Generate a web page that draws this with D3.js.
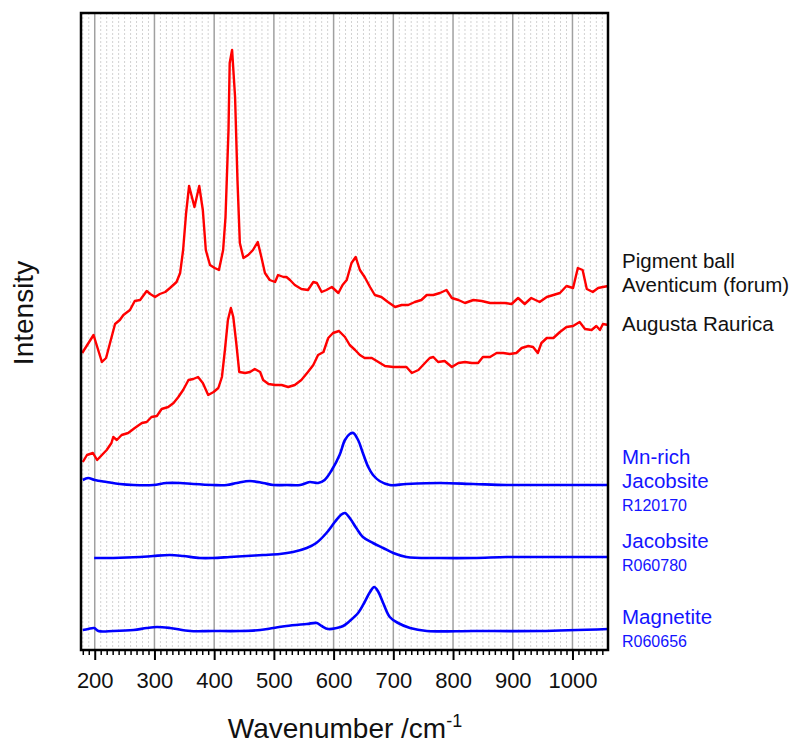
<!DOCTYPE html>
<html>
<head>
<meta charset="utf-8">
<script src="https://cdn.jsdelivr.net/npm/d3@7"></script>
<style>
  body { margin: 0; background: #fff; }
  svg { display: block; font-family: "Liberation Sans", Arial, sans-serif; }
</style>
</head>
<body>
<div id="chart"></div>
<script>
// spectra: [wavenumber, intensity (arbitrary, stacked offset)]
const pigmentBall = [
  [179,297],[198,315],[212,288],[219,292],[234,326],[242,330],[248,335],[259,340],[267,349],[276,350],
  [287,359],[293,356],[301,353],[309,356],[318,358],[326,362],[337,368],[343,377],[348,400],[353,437],
  [358,464],[367,443],[375,464],[381,440],[386,400],[393,385],[401,382],[408,380],[415,400],[419,433],
  [424,520],[426,587],[430,600],[435,553],[439,470],[443,407],[449,392],[457,395],[465,400],[473,408],
  [479,393],[485,377],[493,370],[502,368],[507,375],[516,373],[521,373],[527,370],[535,365],[546,361],
  [557,360],[566,368],[572,367],[580,358],[588,360],[597,363],[608,357],[615,365],[622,370],[630,387],
  [637,393],[644,380],[652,373],[661,363],[669,355],[680,353],[691,348],[703,343],[714,345],[725,345],
  [736,348],[747,350],[756,355],[767,355],[778,357],[789,360],[798,352],[809,350],[820,347],[834,350],
  [848,349],[862,347],[876,347],[887,347],[898,346],[909,352],[920,346],[931,352],[945,348],[957,353],
  [968,355],[979,357],[990,364],[1001,362],[1009,382],[1017,380],[1024,361],[1034,358],[1043,362],
  [1051,363],[1060,364]
];
const augustaRaurica = [
  [180,188],[187,195],[197,197],[204,190],[212,195],[220,200],[228,207],[231,213],[237,210],[245,215],
  [256,217],[267,222],[279,227],[287,228],[295,233],[304,234],[312,241],[323,243],[332,247],[340,253],
  [348,260],[357,270],[365,271],[373,273],[381,267],[390,255],[399,258],[407,262],[413,273],[418,300],
  [423,330],[428,342],[432,333],[437,307],[442,278],[452,277],[460,278],[468,281],[477,278],[482,270],
  [491,266],[502,265],[513,265],[524,263],[535,265],[546,270],[557,278],[566,285],[574,295],[583,298],
  [591,312],[599,317],[609,319],[619,313],[627,305],[636,300],[644,295],[652,292],[664,292],[675,288],
  [686,284],[700,283],[711,283],[722,283],[731,277],[742,280],[753,287],[761,292],[767,293],[775,288],
  [786,289],[798,283],[809,287],[820,288],[831,287],[842,287],[850,293],[862,293],[873,297],[884,297],
  [895,296],[906,297],[915,302],[926,304],[934,303],[942,297],[948,307],[957,312],[968,312],[979,318],
  [990,323],[1001,324],[1012,328],[1021,321],[1032,320],[1040,324],[1046,320],[1051,326],[1060,325]
];
const mnJacobsite = [
  [180,170],[189,172],[200,170],[220,168],[242,166],[265,165],[298,165],[320,167],[343,167],[365,166],
  [398,165],[421,165],[438,167],[460,169],[482,167],[499,165],[521,165],[544,165],[560,168],[574,167],
  [585,170],[597,180],[610,195],[619,210],[627,216],[633,217],[641,210],[649,197],[658,183],[666,175],
  [677,169],[694,165],[722,166],[778,167],[834,166],[890,165],[945,165],[1001,165],[1060,165]
];
const jacobsite = [
  [199,92],[231,92],[276,93],[298,94],[326,95],[348,94],[376,92],[398,92],[426,93],[454,94],
  [482,95],[510,96],[532,98],[555,102],[571,107],[588,117],[602,128],[612,135],[619,137],[627,132],
  [638,122],[649,113],[666,107],[683,102],[700,97],[722,93],[778,92],[834,92],[890,93],[945,93],
  [1001,93],[1060,93]
];
const magnetite = [
  [180,20],[189,21],[199,22],[206,19],[231,19],[265,20],[287,22],[304,23],[326,22],[360,19],
  [398,19],[443,19],[477,20],[499,22],[521,24],[555,26],[572,27],[580,24],[591,21],[605,22],
  [616,24],[627,29],[641,37],[652,48],[661,58],[668,63],[675,58],[683,47],[694,33],[708,27],
  [728,22],[756,19],[834,19],[945,19],[1060,21]
];

const xTicks = [200, 300, 400, 500, 600, 700, 800, 900, 1000];
const redLabels = [
  {lines: ["Pigment ball", "Aventicum (forum)"], at: 268},
  {lines: ["Augusta Raurica"], at: 331}
];
const blueLabels = [
  {lines: ["Mn-rich", "Jacobsite"], code: "R120170", at: 464},
  {lines: ["Jacobsite"], code: "R060780", at: 548},
  {lines: ["Magnetite"], code: "R060656", at: 624}
];

const W = 797, H = 744;
const plotL = 81, plotR = 608, plotT = 13, plotB = 650;

const svg = d3.select("#chart").append("svg")
  .attr("width", W).attr("height", H);

const x = d3.scaleLinear().domain([177, 1059.5]).range([plotL, plotR]);
const y = d3.scaleLinear().domain([0, 637]).range([plotB, plotT]);

// minor dotted grid every 10
const minor = d3.range(180, 1060, 10).filter(d => d % 100 !== 0);
svg.append("g").selectAll("line")
  .data(minor).enter().append("line")
  .attr("x1", d => x(d)).attr("x2", d => x(d))
  .attr("y1", plotT).attr("y2", plotB)
  .attr("stroke", "#d2d2d2").attr("stroke-width", 1)
  .attr("stroke-dasharray", "2,2");

// major grid
svg.append("g").selectAll("line")
  .data(xTicks).enter().append("line")
  .attr("x1", d => x(d)).attr("x2", d => x(d))
  .attr("y1", plotT).attr("y2", plotB)
  .attr("stroke", "#a0a0a0").attr("stroke-width", 1.5);

// spectra
const line = d3.line().x(d => x(d[0])).y(d => y(d[1]));
const smooth = d3.line().x(d => x(d[0])).y(d => y(d[1])).curve(d3.curveCatmullRom);

[pigmentBall, augustaRaurica].forEach(s => {
  svg.append("path").datum(s)
    .attr("d", line)
    .attr("fill", "none").attr("stroke", "#ff0000")
    .attr("stroke-width", 2.4).attr("stroke-linejoin", "round");
});
[mnJacobsite, jacobsite, magnetite].forEach(s => {
  svg.append("path").datum(s)
    .attr("d", smooth)
    .attr("fill", "none").attr("stroke", "#0000ff")
    .attr("stroke-width", 2.6).attr("stroke-linejoin", "round");
});

// x axis with major and minor ticks
svg.append("g").attr("transform", `translate(0,${plotB})`)
  .call(d3.axisBottom(x).tickValues(minor).tickSize(5).tickFormat(""))
  .call(g => g.select(".domain").remove())
  .call(g => g.selectAll("line").attr("stroke", "#000").attr("stroke-width", 1.5));
svg.append("g").attr("transform", `translate(0,${plotB})`)
  .call(d3.axisBottom(x).tickValues(xTicks).tickSize(10).tickPadding(12).tickFormat(d3.format("d")))
  .call(g => g.select(".domain").remove())
  .call(g => g.selectAll("line").attr("stroke", "#000").attr("stroke-width", 2))
  .call(g => g.selectAll("text")
    .attr("font-size", 22).attr("fill", "#111")
    .attr("font-family", "Liberation Sans, Arial, sans-serif"));

// frame
svg.append("rect")
  .attr("x", plotL).attr("y", plotT)
  .attr("width", plotR - plotL).attr("height", plotB - plotT)
  .attr("fill", "none").attr("stroke", "#000").attr("stroke-width", 2.5);

// axis titles
const xt = svg.append("text")
  .attr("x", 345).attr("y", 738)
  .attr("text-anchor", "middle")
  .attr("font-size", 28).attr("fill", "#111");
xt.append("tspan").text("Wavenumber /cm");
xt.append("tspan").attr("dy", -11).attr("font-size", 18).text("-1");

svg.append("text")
  .attr("transform", "translate(33,313) rotate(-90)")
  .attr("text-anchor", "middle")
  .attr("font-size", 28).attr("fill", "#111")
  .text("Intensity");

// series labels
redLabels.forEach(l => {
  l.lines.forEach((t, i) => {
    svg.append("text")
      .attr("x", 622).attr("y", l.at + i * 24)
      .attr("font-size", 20.5).attr("fill", "#111")
      .text(t);
  });
});
blueLabels.forEach(l => {
  l.lines.forEach((t, i) => {
    svg.append("text")
      .attr("x", 622).attr("y", l.at + i * 24)
      .attr("font-size", 20.5).attr("fill", "#1414ff")
      .text(t);
  });
  svg.append("text")
    .attr("x", 622).attr("y", l.at + (l.lines.length - 1) * 24 + 23)
    .attr("font-size", 16).attr("fill", "#1414ff")
    .text(l.code);
});
</script>
</body>
</html>
